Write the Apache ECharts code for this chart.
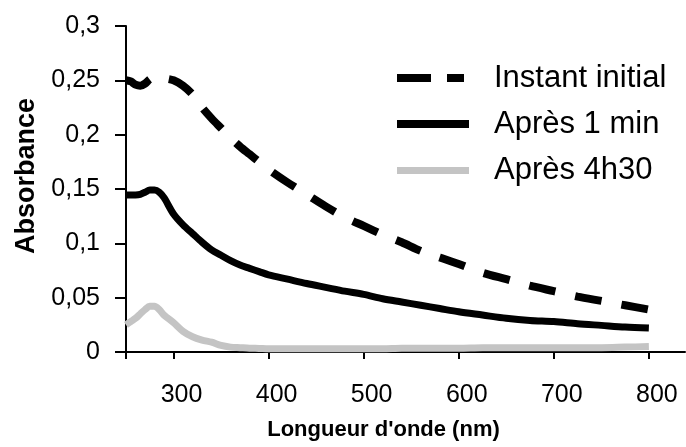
<!DOCTYPE html>
<html>
<head>
<meta charset="utf-8">
<script src="https://cdn.jsdelivr.net/npm/echarts@6/dist/echarts.min.js"></script>
<style>html,body{margin:0;padding:0;background:#fff}#c{width:686px;height:447px}</style>
</head>
<body>
<div id="c"></div>
<script>
// Wavelengths (nm)
var wavelengths = [250,255,260,265,270,275,280,285,290,300,310,320,330,340,350,360,370,380,390,400,420,440,460,480,500,520,540,560,580,600,625,650,675,700,725,750,775,800];
// Absorbance values
var instantInitial = [0.250,0.249,0.246,0.245,0.247,0.251,0.253,0.253,0.252,0.250,0.245,0.237,0.225,0.215,0.206,0.197,0.189,0.182,0.175,0.168,0.156,0.145,0.134,0.124,0.116,0.108,0.101,0.093,0.087,0.081,0.073,0.067,0.061,0.056,0.051,0.047,0.043,0.039];
var apres1min = [0.1445,0.1445,0.1445,0.145,0.147,0.149,0.149,0.147,0.142,0.127,0.117,0.109,0.101,0.094,0.089,0.084,0.080,0.077,0.074,0.071,0.067,0.063,0.0595,0.056,0.053,0.049,0.046,0.043,0.040,0.037,0.034,0.031,0.029,0.028,0.026,0.0245,0.023,0.022];
var apres4h30 = [0.025,0.028,0.031,0.035,0.039,0.042,0.042,0.039,0.034,0.027,0.019,0.014,0.011,0.009,0.006,0.0045,0.004,0.0035,0.0033,0.003,0.003,0.003,0.003,0.003,0.003,0.003,0.0035,0.0035,0.0035,0.0035,0.004,0.004,0.004,0.004,0.004,0.004,0.0045,0.005];
var seriesNames = ['Instant initial','Après 1 min','Après 4h30'];
var xTickValues = [250,300,400,500,600,700,800];
var xLabelValues = [300,400,500,600,700,800];
var xTitle = "Longueur d'onde (nm)";
var yTitle = 'Absorbance';

function pairs(vals){ return wavelengths.map(function(w,i){ return [w, vals[i]]; }); }

var FONT = "'Liberation Sans', Arial, sans-serif";
var chart = echarts.init(document.getElementById('c'), null, {renderer:'canvas'});
chart.setOption({
  animation: false,
  backgroundColor: '#ffffff',
  grid: {left: 126, right: 1, top: 26, bottom: 95},
  legend: {
    orient: 'vertical',
    left: 397, top: 55, padding: 0, itemGap: 0,
    itemWidth: 72, itemHeight: 8,
    textStyle: {fontFamily: FONT, fontSize: 31, color: '#000', lineHeight: 30, padding: [16,0,0,20]},
    data: [
      {name: seriesNames[0], icon: 'path://M0,0h34v8h-34z M50,0h17v8h-17z M72,0v8z', itemStyle: {color: '#000'}},
      {name: seriesNames[1], icon: 'path://M0,0h72v8h-72z', itemStyle: {color: '#000'}},
      {name: seriesNames[2], icon: 'path://M0,1h72v7h-72z M0,0v8z', itemStyle: {color: '#c4c4c4'}}
    ]
  },
  xAxis: {
    type: 'value', min: 250, max: 838,
    name: xTitle, nameLocation: 'middle', nameGap: 67,
    nameTextStyle: {fontFamily: FONT, fontSize: 22, fontWeight: 'bold', color: '#000', padding: [0,44,0,0]},
    axisLine: {show: true, onZero: false, lineStyle: {color: '#000', width: 2}},
    axisTick: {show: true, length: 7, lineStyle: {color: '#000', width: 2}, customValues: xTickValues},
    axisLabel: {fontFamily: FONT, fontSize: 25, color: '#000', margin: 31, padding: [0,0,0,16], customValues: xLabelValues},
    splitLine: {show: false}
  },
  yAxis: {
    type: 'value', min: 0, max: 0.3, interval: 0.05,
    name: yTitle, nameLocation: 'middle', nameGap: 86, nameRotate: 90,
    nameTextStyle: {fontFamily: FONT, fontSize: 27, fontWeight: 'bold', color: '#000', padding: [0,0,0,26]},
    axisLine: {show: true, lineStyle: {color: '#000', width: 2}},
    axisTick: {show: true, length: 11, lineStyle: {color: '#000', width: 2}},
    axisLabel: {fontFamily: FONT, fontSize: 25, color: '#000', margin: 26,
      formatter: function(v){ return String(Math.round(v*100)/100).replace('.', ','); }},
    splitLine: {show: false}
  },
  series: [
    {name: seriesNames[2], type: 'line', data: pairs(apres4h30), symbol: 'none', smooth: 0.3, z: 2,
      lineStyle: {color: '#c4c4c4', width: 7}, itemStyle: {color: '#c4c4c4'}},
    {name: seriesNames[1], type: 'line', data: pairs(apres1min), symbol: 'none', smooth: 0.3, z: 3,
      lineStyle: {color: '#000', width: 7}, itemStyle: {color: '#000'}},
    {name: seriesNames[0], type: 'line', data: pairs(instantInitial), symbol: 'none', smooth: 0.3, z: 4,
      lineStyle: {color: '#000', width: 8, type: [27, 20], cap: 'butt'}, itemStyle: {color: '#000'}}
  ]
});
</script>
</body>
</html>
